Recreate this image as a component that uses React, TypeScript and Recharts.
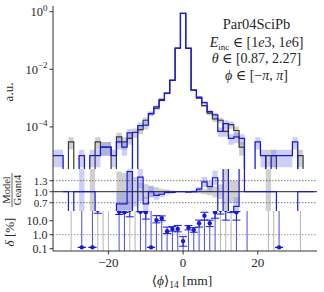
import React from 'react';
import { ComposedChart, Line, Area, Scatter, ErrorBar, XAxis, YAxis, ReferenceLine } from 'recharts';

// ---------------- data (bins k = -24 .. 24, width 70/49 mm) ----------------
const BIN_LOW = -35;
const BIN_HIGH = 35;
const N_BINS = 49;

const geant4 = [
  0, 0, 0, 3.0e-5, 0, 0, 0, 0, 3.0e-5, 2.0e-5, 2.0e-5, 0,
  4.5e-5, 3.0e-5, 4.0e-5, 6.5e-5, 8.0e-5, 1.7e-4, 2.9e-4, 5.0e-4, 9.0e-4, 1.5e-3, 4.2e-3, 5.4e-2,
  0.88,
  5.4e-2, 1.9e-3, 1.0e-3, 5.5e-4, 3.0e-4, 1.9e-4, 1.7e-4, 7.0e-5, 1.2e-4, 7.5e-5, 2.0e-5, 0,
  0, 0, 0, 1.0e-5, 1.0e-5, 0, 0, 0, 0, 1.0e-5, 0, 0,
];
const model = [
  1.0e-5, 1.0e-5, 0, 0, 0, 1.0e-5, 0, 1.0e-5, 1.0e-5, 2.0e-5, 2.0e-5, 1.0e-5,
  3.0e-5, 2.0e-5, 6.2e-5, 0, 1.1e-4, 1.15e-4, 2.9e-4, 4.5e-4, 8.4e-4, 1.47e-3, 4.1e-3, 5.4e-2,
  0.88,
  5.3e-2, 1.9e-3, 1.07e-3, 7.0e-4, 3.4e-4, 2.6e-4, 7.0e-5, 1.3e-4, 4.0e-5, 4.5e-5, 4.0e-5, 0,
  0, 3.0e-5, 1.0e-5, 0, 1.0e-5, 1.0e-5, 1.0e-5, 1.0e-5, 3.0e-5, 0, 0, 0,
];
const geant4RelErr = [
  0, 0, 0, 0.45, 0, 0, 0, 0, 0.45, 0.5, 0.5, 0,
  0.4, 0.45, 0.4, 0.35, 0.3, 0.22, 0.15, 0.12, 0.08, 0.06, 0.04, 0.01,
  0.003,
  0.01, 0.05, 0.07, 0.1, 0.15, 0.22, 0.22, 0.35, 0.28, 0.35, 0.5, 0,
  0, 0, 0, 0.6, 0.6, 0, 0, 0, 0, 0.6, 0, 0,
];
const modelRelErr = [
  0.6, 0.6, 0, 0, 0, 0.6, 0, 0.6, 0.6, 0.5, 0.5, 0.6,
  0.45, 0.5, 0.35, 0, 0.3, 0.3, 0.18, 0.14, 0.1, 0.07, 0.04, 0.01,
  0.003,
  0.01, 0.05, 0.07, 0.1, 0.15, 0.18, 0.35, 0.3, 0.4, 0.4, 0.4, 0,
  0, 0.45, 0.6, 0, 0.6, 0.6, 0.6, 0.6, 0.45, 0, 0, 0,
];

const ratio: (number | null)[] = [
  null, null, 1.0, 0, 1.0, 1.0, 1.0, 1.0, 0, 0, 0, 0,
  0.67, 0.67, 1.55, 0, 1.4, 0.67, 1.0, 0.9, 0.93, 0.98, 0.98, 1.0,
  1.0,
  0.99, 1.0, 1.07, 1.27, 1.14, 1.38, 0, 2.0, 0, 0.6, 2.0, 1.0,
  1.0, 1.0, 1.0, 1.0, 1.0, 0, 0, 0, 0, 1.0, 1.0, 1.0,
];
const ratioGeant4Err = [
  0, 0, 0, 0, 0, 0, 0, 1.0, 0, 0, 0, 0,
  0.55, 0.5, 0.5, 0.4, 0.25, 0.2, 0.16, 0.12, 0.08, 0.05, 0.03, 0.01,
  0.005,
  0.01, 0.03, 0.05, 0.07, 0.1, 0.15, 0.2, 1.0, 0.3, 0.3, 0, 0,
  0, 0, 0, 1.0, 0, 0, 0, 0, 0, 0, 0, 0,
];
const ratioModelErr = [
  0, 0, 0, 0, 0, 1.0, 0, 0, 0, 0, 0, 0,
  0.3, 0.3, 1.2, 0, 0.3, 0.2, 0.15, 0.12, 0.08, 0.05, 0.03, 0.01,
  0.005,
  0.01, 0.03, 0.06, 0.14, 0.15, 0.2, 0, 0, 0, 0.25, 0, 0,
  0, 0, 0, 0, 0, 0, 0, 0, 0, 0, 0, 0,
];

const delta: (number | null)[] = [
  null, null, null, null, null, 0.125, null, 0.125, 60, null, null, null,
  44, 40, 60, null, 44, 40, 0.125, 11, 15, 1.8, 2.6, 2.6,
  0.35,
  3.2, 2.2, 6.5, 23, 6.5, 40, 60, 60, 60, 40, null, null,
  null, null, null, null, null, 0.125, null, null, null, null, null, null,
];
const deltaErrLow = [
  0, 0, 0, 0, 0, 0, 0, 0, 26, 0, 0, 0,
  16, 0, 41, 0, 0, 27, 0, 4, 5, 0.6, 0.8, 1.0,
  0.2,
  1.0, 0.7, 3, 12, 2.7, 25, 30, 49, 22, 29, 0, 0,
  0, 0, 0, 0, 0, 0, 0, 0, 0, 0, 0, 0,
];
const deltaErrHigh = [
  0, 0, 0, 0, 0, 0, 0, 0, 0, 0, 0, 0,
  10, 0, 0, 0, 0, 10, 0, 12, 7, 1.7, 1.2, 2.0,
  0.37,
  1.3, 1.0, 4.5, 17, 4.5, 15, 0, 0, 0, 5, 0, 0,
  0, 0, 0, 0, 0, 0, 0, 0, 0, 0, 0, 0,
];
// b: stem from bottom to point, t: from point to top, B: blue full height, g: grey full height
const deltaStem: (string | null)[] = [
  null, null, null, 'g', null, 't', null, 't', 'g', 'g', 'g', null,
  'b', 'b', 'g', 'g', 'b', 'b', 't', 'b', 'b', 'b', 'b', 'b',
  'b',
  'b', 'b', 'b', 'b', 'b', 'b', 'g', 'g', 'g', 'b', null, 'B',
  null, null, null, 'g', 'g', 't', null, null, null, 'g', null, null,
];

const xTicks = [-20, 0, 20];
const histTicks = [1, 1e-2, 1e-4];
const ratioTicks = [0.7, 1.0, 1.3];
const deltaTicks = [0.1, 1, 10];

// ---------------- layout / style ----------------
const W = 324;
const AXIS_W = 53;
const RIGHT = 7;
const X_DOMAIN: [number, number] = [-34.85, 35.87];
const HIST_DOMAIN: [number, number] = [Math.pow(10, -5.462), Math.pow(10, 0.198)];
const RATIO_DOMAIN: [number, number] = [0.474, 1.619];
const DELTA_DOMAIN: [number, number] = [0.0685, 49.3];
const FONT = "'Liberation Serif', 'DejaVu Serif', 'Times New Roman', serif";
const INK = '#262626';
const FRAME = '#333333';
const BLUE = '#1818dc';
const BLACK = '#383838';
const GAP = [null, null];

const BIN_W = (BIN_HIGH - BIN_LOW) / N_BINS;
const binCenters = geant4.map((_, i) => BIN_LOW + (i + 0.5) * BIN_W);
const FLOOR = 1e-9;

const histRows: any[] = [];
geant4.forEach((g, i) => {
  const m = model[i];
  const lo = BIN_LOW + i * BIN_W;
  [lo, lo + BIN_W].forEach((x) => {
    histRows.push({
      x,
      g4: g > 0 ? g : FLOOR,
      model: m > 0 ? m : FLOOR,
      g4Band: g > 0 && geant4RelErr[i] > 0 ? [g * (1 - geant4RelErr[i]), g * (1 + geant4RelErr[i])] : GAP,
      modelBand: m > 0 && modelRelErr[i] > 0 ? [m * (1 - modelRelErr[i]), m * (1 + modelRelErr[i])] : GAP,
    });
  });
});

const ratioRows: any[] = [];
ratio.forEach((r, i) => {
  const lo = BIN_LOW + i * BIN_W;
  [lo, lo + BIN_W].forEach((x) => {
    ratioRows.push({
      x,
      r,
      gBand: ratioGeant4Err[i] > 0 ? [1 - ratioGeant4Err[i], 1 + ratioGeant4Err[i]] : GAP,
      mBand: r !== null && ratioModelErr[i] > 0 ? [r - ratioModelErr[i], r + ratioModelErr[i]] : GAP,
    });
  });
});

const STEM_FLOOR = 1e-3;
const STEM_CEIL = 1e3;
function stemRows(kinds: string[]) {
  const rows: any[] = [];
  binCenters.forEach((c, i) => {
    const kind = deltaStem[i];
    if (!kind || kinds.indexOf(kind) < 0) return;
    const v = delta[i] ?? STEM_CEIL;
    const lo = kind === 't' ? v : STEM_FLOOR;
    const hi = kind === 'b' ? v : STEM_CEIL;
    rows.push({ x: c, y: lo }, { x: c, y: hi }, { x: c, y: null });
  });
  return rows;
}
const blueStems = stemRows(['b', 't', 'B']);
const greyStems = stemRows(['g']);
const deltaPoints = binCenters
  .map((c, i) => ({ x: c, y: delta[i], err: [deltaErrLow[i], deltaErrHigh[i]] }))
  .filter((p) => p.y !== null);

// ---------------- ticks ----------------
function PowTick(props: any) {
  const { x, y, payload } = props;
  const e = Math.round(Math.log10(payload.value));
  const exp = e < 0 ? `\u2212${-e}` : `${e}`;
  return (
    <text x={x} y={y + 4.5} textAnchor="end" fontFamily={FONT} fontSize={12.5} fill={INK}>
      10<tspan dy={-5.5} fontSize={9}>{exp}</tspan>
    </text>
  );
}
function RatioTick(props: any) {
  const { x, y, payload } = props;
  return (
    <text x={x} y={y + 3.8} textAnchor="end" fontFamily={FONT} fontSize={11} fill={INK}>
      {Number(payload.value).toFixed(1)}
    </text>
  );
}
function FixedTick(props: any) {
  const { x, y, payload } = props;
  return (
    <text x={x} y={y + 4.2} textAnchor="end" fontFamily={FONT} fontSize={12} fill={INK}>
      {Number(payload.value).toFixed(1)}
    </text>
  );
}
function XTick(props: any) {
  const { x, y, payload } = props;
  const v = payload.value;
  return (
    <text x={x} y={y + 10} textAnchor="middle" fontFamily={FONT} fontSize={13} fill={INK}>
      {v < 0 ? `\u2212${-v}` : `${v}`}
    </text>
  );
}

function frameAxes(yDomain: [number, number], logY: boolean) {
  return [
    <XAxis key="xt" xAxisId="top" orientation="top" type="number" domain={X_DOMAIN} allowDataOverflow
      height={0} tick={false} tickLine={false} axisLine={{ stroke: FRAME, strokeWidth: 1 }} />,
    <YAxis key="yr" yAxisId="right" orientation="right" type="number" scale={logY ? 'log' : 'auto'}
      domain={yDomain} allowDataOverflow width={0} tick={false} tickLine={false}
      axisLine={{ stroke: FRAME, strokeWidth: 1 }} />,
  ];
}

export default function App() {
  return (
    <div style={{ position: 'absolute', left: 0, top: 0, width: W, height: 292, background: '#fff' }}>
      {/* main histogram */}
      <div style={{ position: 'absolute', left: 0, top: 0 }}>
        <ComposedChart width={W} height={170} data={histRows} margin={{ top: 6, right: RIGHT, bottom: 1, left: 0 }}>
          <XAxis dataKey="x" type="number" domain={X_DOMAIN} allowDataOverflow ticks={xTicks}
            height={0} tick={false} tickLine={false} axisLine={{ stroke: FRAME, strokeWidth: 1 }} />
          <YAxis type="number" scale="log" domain={HIST_DOMAIN} allowDataOverflow ticks={histTicks} interval={0}
            width={AXIS_W} tick={<PowTick />} tickSize={3.5} tickMargin={2}
            tickLine={{ stroke: FRAME }} axisLine={{ stroke: FRAME, strokeWidth: 1 }} />
          {frameAxes(HIST_DOMAIN, true)}
          <Area dataKey="g4Band" type="linear" stroke="none" fill="#a8a8a8" fillOpacity={0.55}
            isAnimationActive={false} connectNulls={false} />
          <Area dataKey="modelBand" type="linear" stroke="none" fill="#7f88ee" fillOpacity={0.4}
            isAnimationActive={false} connectNulls={false} />
          <Line dataKey="g4" type="linear" stroke={BLACK} strokeWidth={1.2} dot={false} isAnimationActive={false} />
          <Line dataKey="model" type="linear" stroke={BLUE} strokeWidth={1.3} dot={false} isAnimationActive={false} />
        </ComposedChart>
      </div>

      {/* ratio panel */}
      <div style={{ position: 'absolute', left: 0, top: 169 }}>
        <ComposedChart width={W} height={42} data={ratioRows} margin={{ top: 0, right: RIGHT, bottom: 0, left: 0 }}>
          <XAxis dataKey="x" type="number" domain={X_DOMAIN} allowDataOverflow ticks={xTicks}
            height={0} tick={false} tickLine={false} axisLine={{ stroke: FRAME, strokeWidth: 1 }} />
          <YAxis type="number" domain={RATIO_DOMAIN} allowDataOverflow ticks={ratioTicks} interval={0}
            width={AXIS_W} tick={<RatioTick />} tickSize={3.5} tickMargin={2}
            tickLine={{ stroke: FRAME }} axisLine={{ stroke: FRAME, strokeWidth: 1 }} />
          {frameAxes(RATIO_DOMAIN, false)}
          <Area dataKey="gBand" type="linear" stroke="none" fill="#a8a8a8" fillOpacity={0.55}
            isAnimationActive={false} connectNulls={false} />
          <Area dataKey="mBand" type="linear" stroke="none" fill="#7f88ee" fillOpacity={0.4}
            isAnimationActive={false} connectNulls={false} />
          <ReferenceLine y={1.3} stroke="#555" strokeWidth={0.8} strokeDasharray="1.5 1.5" />
          <ReferenceLine y={0.7} stroke="#555" strokeWidth={0.8} strokeDasharray="1.5 1.5" />
          <ReferenceLine y={1.0} stroke="#222" strokeWidth={1} />
          <Line dataKey="r" type="linear" stroke={BLUE} strokeWidth={1.2} dot={false}
            connectNulls={false} isAnimationActive={false} />
        </ComposedChart>
      </div>

      {/* delta panel */}
      <div style={{ position: 'absolute', left: 0, top: 211 }}>
        <ComposedChart width={W} height={81} data={deltaPoints} margin={{ top: 0, right: RIGHT, bottom: 0, left: 0 }}>
          <XAxis dataKey="x" type="number" domain={X_DOMAIN} allowDataOverflow ticks={xTicks} interval={0}
            height={41} tick={<XTick />} tickSize={3.5} tickMargin={2}
            tickLine={{ stroke: FRAME }} axisLine={{ stroke: FRAME, strokeWidth: 1 }} />
          <YAxis type="number" scale="log" domain={DELTA_DOMAIN} allowDataOverflow ticks={deltaTicks} interval={0}
            width={AXIS_W} tick={<FixedTick />} tickSize={3.5} tickMargin={2}
            tickLine={{ stroke: FRAME }} axisLine={{ stroke: FRAME, strokeWidth: 1 }} />
          {frameAxes(DELTA_DOMAIN, true)}
          <ReferenceLine y={1} stroke="#777" strokeWidth={0.8} strokeDasharray="1.5 1.5" />
          <Line data={greyStems} dataKey="y" type="linear" stroke="#b4b4b4" strokeWidth={1}
            dot={false} connectNulls={false} isAnimationActive={false} />
          <Line data={blueStems} dataKey="y" type="linear" stroke="#4a4ae6" strokeWidth={1}
            dot={false} connectNulls={false} isAnimationActive={false} />
          <Scatter data={deltaPoints} dataKey="y" fill={BLUE} isAnimationActive={false}
            shape={(p: any) => <circle cx={p.cx} cy={p.cy} r={2.2} fill={BLUE} />}>
            <ErrorBar dataKey="err" direction="y" width={4} stroke={BLUE} strokeWidth={1} isAnimationActive={false} />
          </Scatter>
        </ComposedChart>
      </div>

      {/* labels */}
      <svg width={W} height={292} style={{ position: 'absolute', left: 0, top: 0, pointerEvents: 'none' }}>
        <g fontFamily={FONT} fill={INK} textAnchor="middle">
          <text x={256.5} y={29} fontSize={14.5}>Par04SciPb</text>
          <text x={256.5} y={46.5} fontSize={14}>
            <tspan fontStyle="italic">E</tspan>
            <tspan fontSize={9} dy={3}>inc</tspan>
            <tspan dy={-3}>{' \u2208 [1'}</tspan>
            <tspan fontStyle="italic">e</tspan>
            <tspan>{'3, 1'}</tspan>
            <tspan fontStyle="italic">e</tspan>
            <tspan>{'6]'}</tspan>
          </text>
          <text x={256.5} y={63} fontSize={14}>
            <tspan fontStyle="italic">{'\u03b8'}</tspan>
            <tspan>{' \u2208 [0.87, 2.27]'}</tspan>
          </text>
          <text x={256.5} y={80} fontSize={14}>
            <tspan fontStyle="italic">{'\u03d5'}</tspan>
            <tspan>{' \u2208 [\u2212'}</tspan>
            <tspan fontStyle="italic">{'\u03c0'}</tspan>
            <tspan>{', '}</tspan>
            <tspan fontStyle="italic">{'\u03c0'}</tspan>
            <tspan>{']'}</tspan>
          </text>

          <text x={0} y={0} fontSize={13} transform="translate(13,92) rotate(-90)">a.u.</text>

          <g transform="translate(12,190) rotate(-90)">
            <text x={0} y={-2} fontSize={10.5}>Model</text>
            <line x1={-17} y1={0} x2={17} y2={0} stroke={INK} strokeWidth={0.7} />
            <text x={0} y={8.5} fontSize={10.5}>Geant4</text>
          </g>

          <text x={0} y={0} fontSize={13} transform="translate(14,232) rotate(-90)">
            <tspan fontStyle="italic">{'\u03b4'}</tspan>
            <tspan>{' [%]'}</tspan>
          </text>

          <text x={182} y={285} fontSize={13.5}>
            <tspan>{'\u27e8'}</tspan>
            <tspan fontStyle="italic">{'\u03d5'}</tspan>
            <tspan>{'\u27e9'}</tspan>
            <tspan fontSize={9.5} dy={3}>14</tspan>
            <tspan dy={-3}>{' [mm]'}</tspan>
          </text>
        </g>
      </svg>
    </div>
  );
}
